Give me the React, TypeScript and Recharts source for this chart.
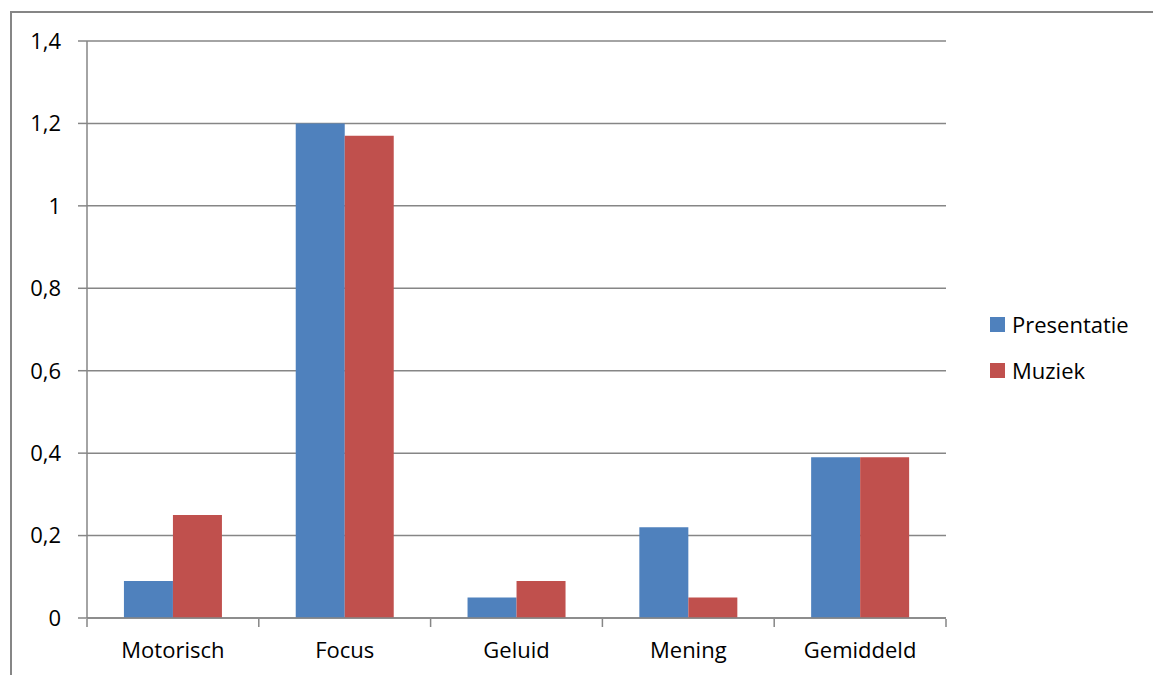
import { BarChart, Bar, XAxis, YAxis, CartesianGrid } from 'recharts'

const categories = ['Motorisch', 'Focus', 'Geluid', 'Mening', 'Gemiddeld']
const presentatie = [0.09, 1.2, 0.05, 0.22, 0.39]
const muziek = [0.25, 1.17, 0.09, 0.05, 0.39]
const yTicks = [0, 0.2, 0.4, 0.6, 0.8, 1, 1.2, 1.4]
const boundaryTicks = [0, 1, 2, 3, 4, 5]
const seriesNames = ['Presentatie', 'Muziek']
const seriesColors = ['#4F81BD', '#C0504D']

const data = categories.map((name, i) => ({
  name,
  Presentatie: presentatie[i],
  Muziek: muziek[i],
}))

const FONT = 'Open Sans, Noto Sans, sans-serif'
const GREY = '#868686'
const SIZE = 22

const fmt = (v: number) => (Number.isInteger(v) ? String(v) : v.toFixed(1).replace('.', ','))

function LegendBox() {
  return (
    <div style={{ position: 'absolute', left: 990, top: 301, fontFamily: FONT, fontSize: SIZE, color: '#000' }}>
      {seriesNames.map((n, i) => (
        <div key={n} style={{ display: 'flex', alignItems: 'center', height: 46 }}>
          <span style={{ width: 15, height: 15, background: seriesColors[i], marginRight: 7, display: 'inline-block' }} />
          {n}
        </div>
      ))}
    </div>
  )
}

export default function App() {
  return (
    <div style={{ position: 'absolute', left: 0, top: 0, width: 1153, height: 675, background: '#fff', overflow: 'hidden' }}>
      <div
        style={{
          position: 'absolute',
          left: 10,
          top: 11,
          width: 1200,
          height: 700,
          borderLeft: `2px solid ${GREY}`,
          borderTop: `2px solid ${GREY}`,
        }}
      />
      <div style={{ position: 'absolute', left: 0, top: 0 }}>
        <BarChart
          width={1153}
          height={675}
          data={data}
          margin={{ top: 41, right: 207, bottom: 55, left: 0 }}
          barCategoryGap="21.5%"
          barGap={0}
          style={{ fontFamily: FONT, fontSize: SIZE }}
        >
          <CartesianGrid vertical={false} stroke={GREY} strokeWidth={1.5} />
          <XAxis
            dataKey="name"
            height={1}
            axisLine={{ stroke: GREY, strokeWidth: 1.5 }}
            tickLine={false}
            tickSize={0}
            tickMargin={24}
            tick={{ fill: '#000', fontSize: SIZE, fontFamily: FONT }}
          />
          <XAxis
            xAxisId="bounds"
            type="number"
            dataKey={() => 0}
            domain={[0, 5]}
            ticks={boundaryTicks}
            allowDataOverflow
            height={1}
            axisLine={false}
            tickFormatter={() => ''}
            tickLine={{ stroke: GREY, strokeWidth: 1.5 }}
            tickSize={8}
          />
          <YAxis
            width={87}
            domain={[0, 1.4]}
            ticks={yTicks}
            tickFormatter={fmt}
            interval={0}
            axisLine={{ stroke: GREY, strokeWidth: 1.5 }}
            tickLine={{ stroke: GREY, strokeWidth: 1.5 }}
            tickSize={9}
            tickMargin={17}
            tick={{ fill: '#000', fontSize: SIZE, fontFamily: FONT }}
          />
          <Bar dataKey="Presentatie" fill={seriesColors[0]} isAnimationActive={false} />
          <Bar dataKey="Muziek" fill={seriesColors[1]} isAnimationActive={false} />
        </BarChart>
      </div>
      <LegendBox />
    </div>
  )
}
